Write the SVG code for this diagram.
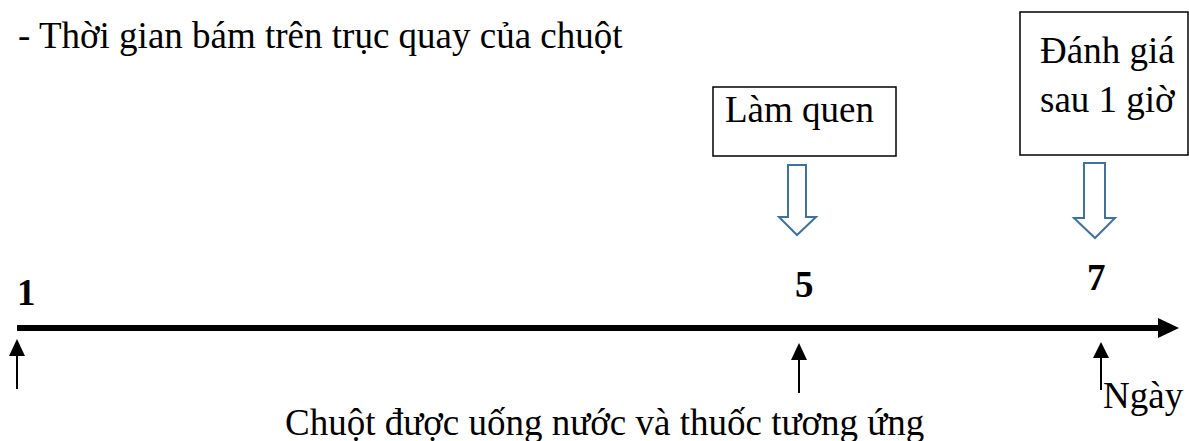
<svg xmlns="http://www.w3.org/2000/svg" width="1189" height="441" viewBox="0 0 1189 441">
  <style>
    .t { font-family: 'Liberation Serif', 'DejaVu Serif', serif; font-size: 37px; fill: #000; }
    .num { font-weight: bold; }
    .box { fill: #fff; stroke: #000; stroke-width: 1.5; }
    .block { fill: #fff; stroke: #41719C; stroke-width: 2; stroke-linejoin: miter; }
    .tick { stroke: #000; stroke-width: 2; }
  </style>

  <rect width="1189" height="441" fill="#fff"/>

  <text id="title" class="t" x="18" y="48">- Thời gian bám trên trục quay của chuột</text>

  <g id="node-lam-quen">
    <rect class="box" x="713" y="87" width="183" height="69"/>
    <text class="t" x="725" y="122">Làm quen</text>
  </g>

  <g id="node-danh-gia">
    <rect class="box" x="1020" y="12" width="168" height="143"/>
    <text class="t" x="1040" y="63">Đánh giá</text>
    <text class="t" x="1040" y="112">sau 1 giờ</text>
  </g>

  <g id="connectors">
    <!-- hollow block arrows under the boxes -->
    <polygon class="block" points="788,165 806,165 806,217 816,217 797,235 779,217 788,217"/>
    <polygon class="block" points="1084,163 1105,163 1105,218 1115,218 1095,238 1074,218 1084,218"/>

    <!-- time axis -->
    <rect x="17" y="325" width="1145" height="6" fill="#000"/>
    <polygon points="1158,318 1179,328 1158,338" fill="#000"/>

    <!-- markers pointing up at the axis -->
    <line class="tick" x1="17" y1="354" x2="17" y2="389"/>
    <polygon points="17,339 25,356 9,356" fill="#000"/>
    <line class="tick" x1="799" y1="358" x2="799" y2="393"/>
    <polygon points="799,343 807,360 791,360" fill="#000"/>
    <line class="tick" x1="1101" y1="356" x2="1101" y2="390"/>
    <polygon points="1101,342 1109,358 1093,358" fill="#000"/>
  </g>

  <g id="day-labels">
    <text class="t num" x="17" y="305">1</text>
    <text class="t num" x="795" y="297">5</text>
    <text class="t num" x="1087" y="290">7</text>
    <text class="t" x="1103" y="408">Ngày</text>
  </g>

  <text id="caption" class="t" x="285" y="435">Chuột được uống nước và thuốc tương ứng</text>
</svg>
